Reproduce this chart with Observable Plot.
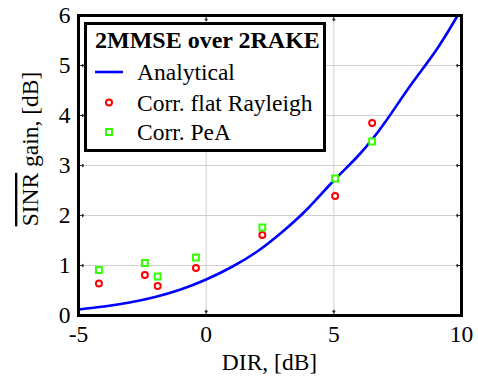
<!DOCTYPE html>
<html>
<head>
<meta charset="utf-8">
<script src="https://cdn.jsdelivr.net/npm/d3@7"></script>
<script src="https://cdn.jsdelivr.net/npm/@observablehq/plot@0.6"></script>
<style>
  html, body { margin: 0; padding: 0; background: white; }
</style>
</head>
<body>
<div id="chart"></div>
<script>
// ---- data ----
const curveDIR  = [-5, -4, -3, -2, -1, 0, 1, 2, 3, 4, 5, 6, 7, 8, 9, 9.85];
const curveGain = [0.12, 0.18, 0.26, 0.37, 0.52, 0.72, 0.97, 1.28, 1.68, 2.15, 2.70, 3.22, 3.86, 4.6, 5.3, 6.0];

const rayDIR  = [-4.2, -2.4, -1.9, -0.4, 2.2, 5.05, 6.5];
const rayGain = [0.64, 0.81, 0.59, 0.95, 1.61, 2.39, 3.85];

const peaDIR  = [-4.2, -2.4, -1.9, -0.4, 2.2, 5.05, 6.5];
const peaGain = [0.91, 1.05, 0.78, 1.16, 1.76, 2.74, 3.48];

const xTicks = [-5, 0, 5, 10];
const yTicks = [0, 1, 2, 3, 4, 5, 6];
const xGrid = [0, 5];
const yGrid = [1, 2, 3, 4, 5];

const legendTitle = "2MMSE over 2RAKE";
const legendNames = ["Analytical", "Corr. flat Rayleigh", "Corr. PeA"];
const xLabel = "DIR, [dB]";

const curve = curveDIR.map((x, i) => ({x, y: curveGain[i]}));
const ray = rayDIR.map((x, i) => ({x, y: rayGain[i]}));
const pea = peaDIR.map((x, i) => ({x, y: peaGain[i]}));

const FONT = "'Liberation Serif', 'Times New Roman', serif";
const FS = "23.5px";
const tickColor = "#333";

const chart = Plot.plot({
  width: 478,
  height: 376,
  marginLeft: 78,
  marginRight: 17,
  marginTop: 15,
  marginBottom: 61,
  style: {fontFamily: FONT, fontSize: FS, background: "white", color: "black", overflow: "visible"},
  x: {domain: [-5, 10]},
  y: {domain: [0, 6]},
  marks: [
    Plot.gridX(xGrid, {stroke: "#cfcfcf", strokeOpacity: 1, strokeWidth: 1}),
    Plot.gridY(yGrid, {stroke: "#cfcfcf", strokeOpacity: 1, strokeWidth: 1}),
    // inward ticks on all four sides
    Plot.vector(xGrid, {x: d => d, y: () => 0, length: 5, rotate: 0, anchor: "start", stroke: tickColor, strokeWidth: 1.2}),
    Plot.vector(xGrid, {x: d => d, y: () => 6, length: 5, rotate: 180, anchor: "start", stroke: tickColor, strokeWidth: 1.2}),
    Plot.vector(yGrid, {x: () => -5, y: d => d, length: 5, rotate: 90, anchor: "start", stroke: tickColor, strokeWidth: 1.2}),
    Plot.vector(yGrid, {x: () => 10, y: d => d, length: 5, rotate: -90, anchor: "start", stroke: tickColor, strokeWidth: 1.2}),
    Plot.axisX({ticks: xTicks, tickSize: 0, tickPadding: 10, label: null, fontSize: 23.5, tickFormat: d => String(d)}),
    Plot.axisY({ticks: yTicks, tickSize: 0, tickPadding: 8, label: null, fontSize: 23.5, tickFormat: d => String(d)}),
    Plot.line(curve, {x: "x", y: "y", stroke: "#0000ff", strokeWidth: 2.6, curve: "natural"}),
    Plot.dot(ray, {x: "x", y: "y", r: 3, stroke: "#ff0000", strokeWidth: 2, fill: "white"}),
    Plot.dot(pea, {x: "x", y: "y", r: 3.3, symbol: "square", stroke: "#33ff00", strokeWidth: 2, fill: "white"}),
    Plot.frame({stroke: "black", strokeWidth: 3})
  ]
});

document.getElementById("chart").appendChild(chart);

const svg = d3.select(chart);
svg.selectAll("text").style("font-family", FONT);

// x axis title
svg.append("text")
  .attr("x", 269.5).attr("y", 370)
  .attr("text-anchor", "middle")
  .style("font-family", FONT).style("font-size", FS)
  .attr("fill", "black")
  .text(xLabel);

// y axis title with overline over SINR
const yl = svg.append("text")
  .attr("transform", "translate(38,149) rotate(-90)")
  .attr("text-anchor", "middle")
  .style("font-family", FONT).style("font-size", FS)
  .attr("fill", "black");
yl.append("tspan").style("text-decoration", "overline").text("SINR");
yl.append("tspan").text(" gain, [dB]");

// legend
const lg = svg.append("g").attr("text-anchor", "start");
lg.append("rect")
  .attr("x", 85.5).attr("y", 23.5).attr("width", 239).attr("height", 127)
  .attr("fill", "white").attr("stroke", "black").attr("stroke-width", 3);
lg.append("text")
  .attr("x", 95).attr("y", 48)
  .attr("text-anchor", "start")
  .style("font-family", FONT).style("font-size", "24px").style("font-weight", "bold")
  .attr("fill", "black")
  .text(legendTitle);
const rowY = [72, 102.5, 132];
lg.append("line")
  .attr("x1", 95).attr("x2", 123).attr("y1", rowY[0]).attr("y2", rowY[0])
  .attr("stroke", "#0000ff").attr("stroke-width", 2.6);
lg.append("circle")
  .attr("cx", 109).attr("cy", rowY[1]).attr("r", 3)
  .attr("fill", "white").attr("stroke", "#ff0000").attr("stroke-width", 2);
lg.append("rect")
  .attr("x", 106).attr("y", rowY[2] - 3).attr("width", 6).attr("height", 6)
  .attr("fill", "white").attr("stroke", "#33ff00").attr("stroke-width", 2);
legendNames.forEach((name, i) => {
  lg.append("text")
    .attr("x", 137).attr("y", rowY[i] + 8)
    .attr("text-anchor", "start")
    .style("font-family", FONT).style("font-size", FS)
    .attr("fill", "black")
    .text(name);
});
</script>
</body>
</html>
